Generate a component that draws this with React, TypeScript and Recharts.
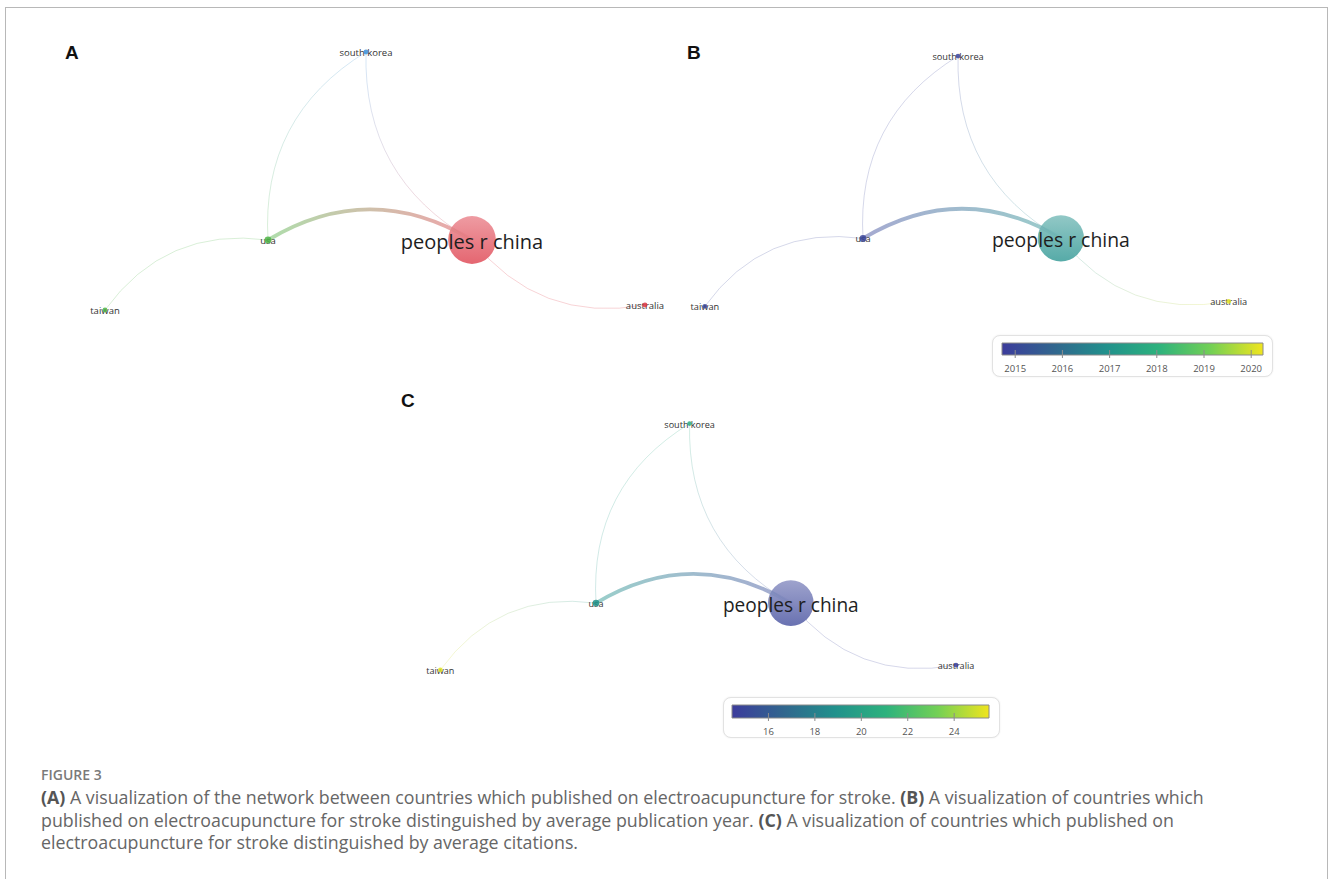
import React from 'react';
import { ScatterChart, Scatter, XAxis, YAxis, ComposedChart, ReferenceArea } from 'recharts';

// VOSviewer country map, the same layout is used in panels A, B and C
const countries = ['south korea', 'usa', 'taiwan', 'peoples r china', 'australia'];
const mapX = [98, 0, -163, 204, 377];
const mapY = [188, 0, -70, 0, -65];
const documents = [1, 2, 1, 95, 1];
const clusters = [3, 2, 2, 1, 1];
const avgPubYear = [2014.9, 2014.95, 2015.0, 2016.9, 2020.1];
const avgCitations = [20.6, 19.0, 25.2, 14.9, 14.6];

// links between countries (index into countries)
const linkFrom = [1, 4, 2, 1, 3];
const linkTo = [3, 3, 1, 0, 0];
const linkStrength = [3, 1, 1, 1, 1];

const yearTicks = [2015, 2016, 2017, 2018, 2019, 2020];
const yearRange: [number, number] = [2014.72, 2020.25];
const citationTicks = [16, 18, 20, 22, 24];
const citationRange: [number, number] = [14.43, 25.5];

const clusterColors: Record<number, string> = { 1: '#dc3643', 2: '#4fb448', 3: '#3a8ed8' };
const viridisStops = ['#3c3c9c', '#31668e', '#21918c', '#2db27d', '#73d055', '#f0e51e'];

const PAD = 40;
const X_DOMAIN: [number, number] = [-200, 420];
const Y_DOMAIN: [number, number] = [-110, 220];
const CURVE = 0.3;
const LABEL_FONT = '"Open Sans", "Noto Sans", sans-serif';

function hexToRgb(hex: string) {
  const n = parseInt(hex.slice(1), 16);
  return [(n >> 16) & 255, (n >> 8) & 255, n & 255];
}

function rgb(c: number[]) {
  return `rgb(${c.map((v) => Math.round(v)).join(',')})`;
}

// blend with white
function mix(hex: string, t: number) {
  return rgb(hexToRgb(hex).map((v) => v + (255 - v) * t));
}

function viridis(t: number) {
  const tt = Math.max(0, Math.min(1, t)) * (viridisStops.length - 1);
  const i = Math.min(Math.floor(tt), viridisStops.length - 2);
  const f = tt - i;
  const a = hexToRgb(viridisStops[i]);
  const b = hexToRgb(viridisStops[i + 1]);
  return '#' + a.map((v, k) => Math.round(v + (b[k] - v) * f).toString(16).padStart(2, '0')).join('');
}

const colorsA = clusters.map((c) => clusterColors[c]);
const colorsB = avgPubYear.map((v) => viridis((v - yearRange[0]) / (yearRange[1] - yearRange[0])));
const colorsC = avgCitations.map((v) => viridis((v - citationRange[0]) / (citationRange[1] - citationRange[0])));

interface PanelProps {
  id: string;
  plotLeft: number;
  plotTop: number;
  scale: number;
  colors: string[];
}

function NetworkPanel({ id, plotLeft, plotTop, scale, colors }: PanelProps) {
  const plotW = (X_DOMAIN[1] - X_DOMAIN[0]) * scale;
  const plotH = (Y_DOMAIN[1] - Y_DOMAIN[0]) * scale;
  const nodes = countries.map((name, i) => ({
    name,
    x: mapX[i],
    y: mapY[i],
    r: 2.45 * Math.sqrt(documents[i]) * scale,
    color: colors[i],
    idx: i,
  }));

  const bigNode = (p: any) => {
    const n = p.payload;
    if (n.r < 8) return <g />;
    const gid = `${id}-node-${n.idx}`;
    return (
      <g>
        <defs>
          <linearGradient id={gid} x1="0" y1="0" x2="0" y2="1">
            <stop offset="0" stopColor={mix(n.color, 0.48)} />
            <stop offset="1" stopColor={mix(n.color, 0.2)} />
          </linearGradient>
        </defs>
        <circle cx={p.cx} cy={p.cy} r={n.r} fill={`url(#${gid})`} fillOpacity={0.95} />
      </g>
    );
  };

  const labelNode = (p: any) => {
    const n = p.payload;
    const big = n.r >= 8;
    return (
      <g>
        <text
          x={p.cx}
          y={p.cy + (big ? 1.5 : 0.5)}
          textAnchor="middle"
          dominantBaseline="central"
          fontFamily={LABEL_FONT}
          fontSize={(big ? 20 : 9.5) * scale}
          fill={big ? '#1e1e1e' : '#333'}
        >
          {n.name}
        </text>
        {!big && <circle cx={p.cx} cy={p.cy} r={n.r} fill={n.color} fillOpacity={0.85} />}
      </g>
    );
  };

  const linkLine = (k: number) => (props: any) => {
    const pts = props.points || [];
    if (pts.length < 2) return <g />;
    const [p0, p1] = pts;
    const dx = p1.x - p0.x;
    const dy = p1.y - p0.y;
    const cx = (p0.x + p1.x) / 2 + dy * CURVE;
    const cy = (p0.y + p1.y) / 2 - dx * CURVE;
    const gid = `${id}-link-${k}`;
    const strong = linkStrength[k] > 1;
    const c0 = colors[linkFrom[k]];
    const c1 = colors[linkTo[k]];
    return (
      <g>
        <defs>
          <linearGradient id={gid} gradientUnits="userSpaceOnUse" x1={p0.x} y1={p0.y} x2={p1.x} y2={p1.y}>
            <stop offset="0" stopColor={mix(c0, strong ? 0.35 : 0.3)} />
            <stop offset="1" stopColor={mix(c1, strong ? 0.35 : 0.3)} />
          </linearGradient>
        </defs>
        <path
          d={`M${p0.x},${p0.y} Q${cx},${cy} ${p1.x},${p1.y}`}
          fill="none"
          stroke={`url(#${gid})`}
          strokeWidth={(0.9 + (linkStrength[k] - 1) * 1.5) * scale}
          strokeOpacity={strong ? 0.7 : 0.35}
          strokeLinecap="round"
        />
      </g>
    );
  };

  return (
    <div style={{ position: 'absolute', left: plotLeft - PAD, top: plotTop - PAD }}>
      <ScatterChart
        width={plotW + 2 * PAD}
        height={plotH + 2 * PAD}
        margin={{ top: PAD, right: PAD, bottom: PAD, left: PAD }}
      >
        <XAxis type="number" dataKey="x" domain={X_DOMAIN} allowDataOverflow hide />
        <YAxis type="number" dataKey="y" domain={Y_DOMAIN} allowDataOverflow hide />
        <Scatter data={nodes} shape={bigNode} isAnimationActive={false} />
        {linkFrom.map((f, k) => (
          <Scatter
            key={k}
            data={[nodes[f], nodes[linkTo[k]]]}
            shape={() => <g />}
            line={linkLine(k)}
            isAnimationActive={false}
          />
        ))}
        <Scatter data={nodes} shape={labelNode} isAnimationActive={false} />
      </ScatterChart>
    </div>
  );
}

interface LegendProps {
  id: string;
  left: number;
  top: number;
  width: number;
  height: number;
  barLeft: number;
  barRight: number;
  barTop: number;
  barHeight: number;
  range: [number, number];
  ticks: number[];
}

function ColorLegend({ id, left, top, width, height, barLeft, barRight, barTop, barHeight, range, ticks }: LegendProps) {
  const inner = height - 2;
  const renderTick = (p: any) => (
    <g>
      <line x1={p.x} x2={p.x} y1={p.y - 5} y2={p.y + 3} stroke="#8c8c8c" strokeWidth={1} />
      <text x={p.x} y={p.y + 13} textAnchor="middle" dominantBaseline="central" fontFamily={LABEL_FONT} fontSize={9.5} fill="#555">
        {p.payload.value}
      </text>
    </g>
  );
  return (
    <div
      style={{
        position: 'absolute',
        left,
        top,
        width,
        height,
        boxSizing: 'border-box',
        border: '1px solid #e2e2e2',
        borderRadius: 8,
        boxShadow: '0 0 2px rgba(0,0,0,0.08)',
        background: '#fff',
      }}
    >
      <ComposedChart
        width={width - 2}
        height={inner}
        data={ticks.map((v) => ({ v }))}
        margin={{ top: barTop, right: width - 2 - barRight, bottom: 0, left: barLeft }}
      >
        <defs>
          <linearGradient id={id} x1="0" y1="0" x2="1" y2="0">
            {viridisStops.map((c, i) => (
              <stop key={i} offset={i / (viridisStops.length - 1)} stopColor={c} />
            ))}
          </linearGradient>
        </defs>
        <XAxis
          type="number"
          dataKey="v"
          domain={range}
          ticks={ticks}
          interval={0}
          allowDataOverflow
          axisLine={false}
          tickLine={false}
          tickSize={0}
          tickMargin={0}
          height={inner - barTop - barHeight}
          tick={renderTick}
        />
        <YAxis type="number" domain={[0, 1]} allowDataOverflow hide />
        <ReferenceArea
          x1={range[0]}
          x2={range[1]}
          y1={0}
          y2={1}
          fill={`url(#${id})`}
          fillOpacity={1}
          stroke="#8a8a8a"
          strokeWidth={1}
          ifOverflow="visible"
        />
      </ComposedChart>
    </div>
  );
}

const panelLetter: React.CSSProperties = {
  position: 'absolute',
  fontFamily: '"Liberation Sans", Arial, sans-serif',
  fontWeight: 700,
  fontSize: 19,
  lineHeight: '20px',
  color: '#111',
};

const captionLine: React.CSSProperties = {
  position: 'absolute',
  left: 41,
  whiteSpace: 'nowrap',
  fontFamily: '"Open Sans", sans-serif',
  fontSize: 17.8,
  lineHeight: '24px',
  color: '#666',
};

const bold: React.CSSProperties = { color: '#555', fontWeight: 700 };

export default function App() {
  return (
    <div style={{ position: 'absolute', left: 0, top: 0, width: 1330, height: 879, background: '#fff', overflow: 'hidden' }}>
      <div
        style={{
          position: 'absolute',
          left: 5,
          top: 7,
          width: 1323,
          height: 880,
          boxSizing: 'border-box',
          borderTop: '1px solid #b8b8b8',
          borderLeft: '1px solid #b8b8b8',
          borderRight: '1px solid #b8b8b8',
        }}
      />

      <div style={{ ...panelLetter, left: 65, top: 43 }}>A</div>
      <div style={{ ...panelLetter, left: 687, top: 43 }}>B</div>
      <div style={{ ...panelLetter, left: 401, top: 391 }}>C</div>

      <NetworkPanel id="a" plotLeft={68} plotTop={20} scale={1} colors={colorsA} />
      <NetworkPanel id="b" plotLeft={669} plotTop={24.6} scale={0.97} colors={colorsB} />
      <NetworkPanel id="c" plotLeft={405} plotTop={393} scale={0.955} colors={colorsC} />

      <ColorLegend
        id="legend-year"
        left={992}
        top={335}
        width={281}
        height={42}
        barLeft={9}
        barRight={270}
        barTop={7}
        barHeight={12}
        range={yearRange}
        ticks={yearTicks}
      />
      <ColorLegend
        id="legend-cit"
        left={723}
        top={697}
        width={277}
        height={41}
        barLeft={8}
        barRight={265}
        barTop={7}
        barHeight={13}
        range={citationRange}
        ticks={citationTicks}
      />

      <div style={{ ...captionLine, top: 765, lineHeight: '20px', fontSize: 14, fontWeight: 600, color: '#7a7a7a' }}>FIGURE 3</div>
      <div style={{ ...captionLine, top: 785 }}>
        <span style={bold}>(A)</span> A visualization of the network between countries which published on electroacupuncture for stroke.{' '}
        <span style={bold}>(B)</span> A visualization of countries which
      </div>
      <div style={{ ...captionLine, top: 808 }}>
        published on electroacupuncture for stroke distinguished by average publication year. <span style={bold}>(C)</span> A
        visualization of countries which published on
      </div>
      <div style={{ ...captionLine, top: 830 }}>electroacupuncture for stroke distinguished by average citations.</div>
    </div>
  );
}
